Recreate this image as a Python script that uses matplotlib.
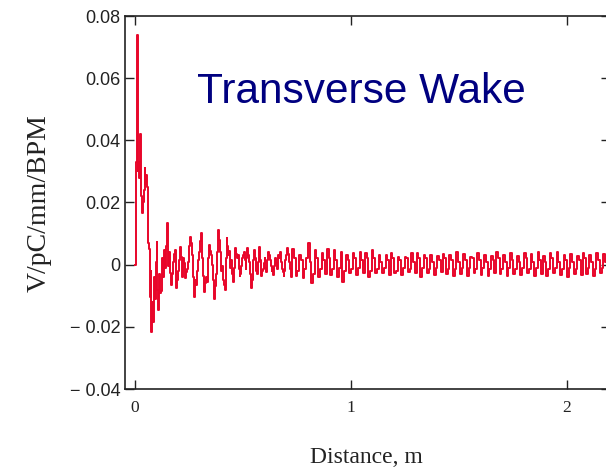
import numpy as np
import matplotlib
matplotlib.use("Agg")
import matplotlib.pyplot as plt

# ---- data ----
# early part: sampled every 0.004 m from 0
early_start, early_step = 0.0, 0.004
wake_early = [0.0, 0.033, 0.074, 0.030, 0.033, 0.028, 0.042, 0.022, 0.0165, 0.020,
              0.024, 0.031, 0.026, 0.029, 0.025, 0.007, 0.005, -0.0105, -0.002, -0.0216,
              -0.012, -0.0185, -0.004, -0.011, 0.001, 0.0074, -0.008, -0.0146, -0.003, -0.009,
              -0.0085, 0.002, -0.004, 0.004, 0.0047, -0.001, 0.006, 0.0134, -0.0005, 0.004,
              -0.0027]

# middle part: sampled every 0.004 m from 0.168 m
mid_start, mid_step = 0.168, 0.004
wake_mid = [-0.0066, -0.003, 0.001, 0.0035, 0.0047, -0.001, -0.0076, -0.005, -0.002, 0.0015,
            0.0058, 0.0025, -0.004, -0.001, 0.002, 0.0005, -0.0044, -0.0025, -0.0015, 0.001,
            0.0026, 0.006, 0.009, 0.007, 0.003, -0.004, -0.0103, -0.008, -0.005, -0.0065,
            -0.002, 0.0015, 0.004, 0.0075, 0.0101, 0.006, 0.002, -0.0035, -0.0087, -0.006,
            -0.004, -0.0055, -0.002, 0.002, 0.0063, 0.0045, 0.003, 0.0, -0.005, -0.008,
            -0.0109, -0.007, -0.003, 0.004, 0.0112, 0.008, 0.004, 0.001, -0.002, -0.0005,
            -0.005, -0.0065, -0.0082, 0.002, 0.0085, 0.006, 0.003, 0.0045, -0.001, 0.0015,
            -0.003, -0.0015, -0.0055, -0.001, 0.0053, 0.0035, 0.002, 0.003, -0.0015, -0.0035,
            -0.003, -0.0005, 0.002, 0.003, 0.0042, 0.0015, -0.0015, 0.002, 0.0053, 0.003,
            0.001, -0.003, -0.0076, -0.005, -0.002, 0.0015, 0.0047, 0.002, -0.002, -0.003,
            0.001, 0.0035, 0.0058, 0.0015, -0.0038, -0.002, -0.0015, 0.0005, 0.002, -0.001,
            -0.0025, 0.0015, 0.0042, 0.003, 0.0015, -0.0005, -0.002, -0.001, -0.0033, -0.0005,
            0.002, 0.0005, -0.0015, 0.001, 0.003, 0.002, 0.0042, 0.001, -0.0015, -0.0025,
            -0.0038, -0.002, 0.0015, 0.003, 0.0053, 0.0035, 0.001, -0.0015, -0.004]

# tail: sampled every 0.008 m from 0.728 m
tail_start, tail_step = 0.728, 0.008
wake_tail = [0.0052, 0.002, -0.0035, -0.002, 0.003, 0.0015, -0.0044, -0.0015,
             0.002, 0.0069, 0.001, -0.006, -0.003, 0.0047, 0.002, -0.004,
             -0.0015, 0.0038, 0.0015, -0.003, 0.0052, 0.002, -0.0033, -0.0015,
             0.0047, 0.0015, -0.004, -0.001, 0.004, -0.0055, -0.002,
             0.0031, 0.0015, -0.0028, -0.0015, 0.0036, 0.002, -0.0033, -0.001,
             0.0042, 0.0015, -0.0028,
             0.0036, 0.002, -0.0039, -0.002, 0.0047, 0.002, -0.0028, -0.0015,
             0.0031, 0.001, -0.0028, -0.001,
             0.0031, 0.0015, -0.0033,
             0.0036, 0.002, -0.0028, -0.002, 0.0026, 0.0015, -0.0033, -0.001,
             0.0026, 0.002, -0.0022, -0.0015,
             0.0036, 0.001, -0.0028,
             0.0036, 0.002, -0.0039, -0.001, 0.0031, 0.002, -0.0028, -0.0015,
             0.0031, 0.001, -0.0033, -0.001,
             0.0028, 0.0015, -0.0025,
             0.0035, 0.002, -0.003, -0.0015,
             0.003, 0.0015, -0.0035, -0.0015, 0.004, 0.001, -0.003, -0.001,
             0.0035, 0.0015, -0.0038, -0.001, 0.0025, 0.002, -0.0028, -0.0015,
             0.0038, 0.0015, -0.0032, -0.001, 0.0032, 0.001, -0.0036, -0.0015,
             0.0028, 0.0015, -0.0026,
             0.0042, 0.002, -0.003, -0.0015, 0.003, 0.001, -0.0038, -0.001,
             0.0036, 0.0015, -0.003, -0.0015, 0.0028, 0.001, -0.0034, -0.001,
             0.0039, 0.002, -0.0028, -0.0015, 0.0033, 0.001, -0.0035, -0.001,
             0.004, 0.0015, -0.003,
             0.0029, 0.001, -0.0036, -0.0015, 0.0036, 0.002, -0.0027, -0.001,
             0.0041, 0.001, -0.0034, -0.0015, 0.003, 0.0015, -0.0039, -0.001,
             0.0035, 0.001, -0.0029, -0.0015,
             0.0027, 0.0015, -0.0033,
             0.0038, 0.002, -0.003, -0.001, 0.0032, 0.001, -0.0036, -0.0015,
             0.0039, 0.0015, -0.0028, -0.001, 0.0034, 0.001, -0.0033, -0.0015]

x_ticks = [0, 1, 2]
x_ticklabels = ["0", "1", "2"]
y_ticks = [-0.04, -0.02, 0.0, 0.02, 0.04, 0.06, 0.08]
y_ticklabels = ["\u2212 0.04", "\u2212 0.02", "0", "0.02", "0.04", "0.06", "0.08"]

dist = np.concatenate([early_start + np.arange(len(wake_early)) * early_step,
                       mid_start + np.arange(len(wake_mid)) * mid_step,
                       tail_start + np.arange(len(wake_tail)) * tail_step])
wake = np.concatenate([wake_early, wake_mid, wake_tail])

# ---- figure ----
W, H = 606, 469
fig = plt.figure(figsize=(W / 100, H / 100), dpi=100)
left, right, top, bottom = 125, 610, 16, 389
ax = fig.add_axes([left / W, 1 - bottom / H, (right - left) / W, (bottom - top) / H])

ax.plot(dist, wake, color="#e8062a", lw=1.4, drawstyle="steps-post")

x0_px, px_per_m = 135, 216
ax.set_xlim((left - x0_px) / px_per_m, (right - x0_px) / px_per_m)
ax.set_ylim(-0.04, 0.08)

ax.set_xticks(x_ticks)
ax.set_xticklabels(x_ticklabels, fontfamily="Liberation Serif", fontsize=12.5, color="#222222")
ax.set_yticks(y_ticks)
ax.set_yticklabels(y_ticklabels, fontfamily="Liberation Sans", fontsize=13, color="#222222")
ax.tick_params(direction="in", length=6.5, width=1.0, color="#222222",
               top=True, right=True)
ax.tick_params(axis="x", pad=8)
ax.tick_params(axis="y", pad=3.5)
for s in ax.spines.values():
    s.set_linewidth(1.2)
    s.set_color("#222222")

fig.text(39 / W, 1 - 203 / H, "V/pC/mm/BPM", rotation=90, ha="center", va="center",
         fontfamily="Liberation Serif", fontsize=20, color="#222222")
fig.text(366.5 / W, 1 - 463 / H, "Distance, m", ha="center", va="baseline",
         fontfamily="Liberation Serif", fontsize=17, color="#222222")
fig.text(197 / W, 1 - 103 / H, "Transverse Wake", ha="left", va="baseline",
         fontfamily="Liberation Sans", fontsize=30.5, color="#000080")

fig.savefig("out.png", dpi=100)
